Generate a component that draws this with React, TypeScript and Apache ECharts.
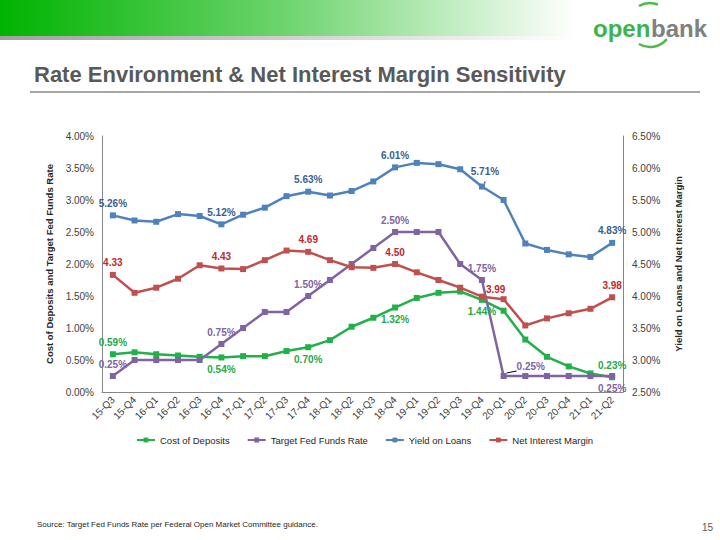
import React, { useEffect, useRef } from 'react';
import * as echarts from 'echarts';

const categories = ['15-Q3','15-Q4','16-Q1','16-Q2','16-Q3','16-Q4','17-Q1','17-Q2','17-Q3','17-Q4','18-Q1','18-Q2','18-Q3','18-Q4','19-Q1','19-Q2','19-Q3','19-Q4','20-Q1','20-Q2','20-Q3','20-Q4','21-Q1','21-Q2'];
const costOfDeposits = [0.59,0.62,0.59,0.57,0.55,0.54,0.56,0.56,0.64,0.70,0.81,1.02,1.16,1.32,1.47,1.55,1.57,1.44,1.27,0.82,0.55,0.40,0.29,0.23];
const fedFundsRate = [0.25,0.50,0.50,0.50,0.50,0.75,1.00,1.25,1.25,1.50,1.75,2.00,2.25,2.50,2.50,2.50,2.00,1.75,0.25,0.25,0.25,0.25,0.25,0.25];
const yieldOnLoans = [5.26,5.18,5.16,5.28,5.25,5.12,5.27,5.38,5.56,5.63,5.57,5.64,5.79,6.01,6.08,6.06,5.98,5.71,5.50,4.82,4.72,4.65,4.61,4.83];
const netInterestMargin = [4.33,4.05,4.13,4.27,4.48,4.43,4.42,4.56,4.71,4.69,4.56,4.45,4.44,4.50,4.37,4.25,4.13,3.99,3.95,3.54,3.65,3.73,3.80,3.98];
const leftTicks = [0, 4, 0.5];
const rightTicks = [2.5, 6.5, 0.5];

const FONT = '"Liberation Sans", Arial, sans-serif';

type LabelCfg = { position: string; offset?: number[]; leader?: boolean };
const costLabels: Record<number, LabelCfg> = {
  0: { position: 'top' }, 5: { position: 'bottom' }, 9: { position: 'bottom' },
  13: { position: 'bottom' }, 17: { position: 'bottom' }, 23: { position: 'top' },
};
const fedLabels: Record<number, LabelCfg> = {
  0: { position: 'top' }, 5: { position: 'top' }, 9: { position: 'top' }, 13: { position: 'top' },
  17: { position: 'top' }, 18: { position: 'right', offset: [6, -10], leader: true }, 23: { position: 'bottom' },
};
const yieldLabels: Record<number, LabelCfg> = {
  0: { position: 'top' }, 5: { position: 'top' }, 9: { position: 'top' }, 13: { position: 'top' },
  17: { position: 'top', offset: [3, -3], leader: true }, 23: { position: 'top' },
};
const nimLabels: Record<number, LabelCfg> = {
  0: { position: 'top' }, 5: { position: 'top' }, 9: { position: 'top' }, 13: { position: 'top' },
  17: { position: 'right', offset: [-3, -7] }, 23: { position: 'top' },
};

function buildData(values: number[], labels: Record<number, LabelCfg>) {
  return values.map((v, i) => {
    const cfg = labels[i];
    if (!cfg) return v;
    const item: any = { value: v, label: { show: true, position: cfg.position, offset: cfg.offset || [0, 0] } };
    if (cfg.leader) item.labelLine = { show: true, lineStyle: { color: '#000', width: 1 } };
    return item;
  });
}

function makeSeries(name: string, values: number[], labels: Record<number, LabelCfg>, lineColor: string, labelColor: string, yAxisIndex: number, pct: boolean) {
  return {
    name,
    type: 'line',
    yAxisIndex,
    data: buildData(values, labels),
    symbol: 'rect',
    symbolSize: 6,
    lineStyle: { color: lineColor, width: 2.5 },
    itemStyle: { color: lineColor },
    label: {
      show: false,
      color: labelColor,
      fontWeight: 'bold',
      fontSize: 10,
      fontFamily: FONT,
      distance: 4,
      formatter: (p: any) => (pct ? p.value.toFixed(2) + '%' : p.value.toFixed(2)),
    },
    emphasis: { disabled: true },
  };
}

export default function App() {
  const ref = useRef<HTMLDivElement>(null);
  useEffect(() => {
    if (!ref.current) return;
    const chart = echarts.init(ref.current, undefined, { renderer: 'svg' });
    const axisLabel = { color: '#404040', fontSize: 10, fontFamily: FONT };
    chart.setOption({
      animation: false,
      backgroundColor: '#ffffff',
      title: {
        text: 'Rate Environment & Net Interest Margin Sensitivity',
        left: 34,
        top: 63,
        padding: 0,
        textStyle: { color: '#595959', fontSize: 22, fontWeight: 'bold', fontFamily: FONT },
      },
      graphic: [
        {
          type: 'rect', left: 0, top: 0, shape: { x: 0, y: 0, width: 720, height: 36 },
          style: { fill: new echarts.graphic.LinearGradient(0, 0, 1, 0, [
            { offset: 0, color: '#00b300' }, { offset: 0.4, color: '#6fd46f' }, { offset: 0.8, color: '#ffffff' }, { offset: 1, color: '#ffffff' },
          ]) },
          silent: true,
        },
        {
          type: 'rect', left: 0, top: 36, shape: { x: 0, y: 0, width: 720, height: 4 },
          style: { fill: new echarts.graphic.LinearGradient(0, 0, 1, 0, [
            { offset: 0, color: '#a0a0a0' }, { offset: 0.8, color: '#ffffff' }, { offset: 1, color: '#ffffff' },
          ]) },
          silent: true,
        },
        {
          type: 'arc', shape: { cx: 650, cy: 25, r: 22, startAngle: -2.1, endAngle: -1.2 },
          style: { stroke: '#4cbb4c', lineWidth: 2.5, fill: 'none' }, silent: true,
        },
        {
          type: 'arc', shape: { cx: 650, cy: 25, r: 22, startAngle: 0.7, endAngle: 2.1 },
          style: { stroke: '#4cbb4c', lineWidth: 2.5, fill: 'none' }, silent: true,
        },
        {
          type: 'text', x: 593, y: 28,
          style: { text: 'open', font: 'bold 24px ' + FONT, fill: '#3cb44b', verticalAlign: 'middle', align: 'left' },
          silent: true,
        },
        {
          type: 'text', x: 651, y: 28,
          style: { text: 'bank', font: 'bold 24px ' + FONT, fill: '#808080', verticalAlign: 'middle', align: 'left' },
          silent: true,
        },
        {
          type: 'line', shape: { x1: 30, y1: 92, x2: 700, y2: 92 },
          style: { stroke: '#a6a6a6', lineWidth: 2 }, silent: true,
        },
        {
          type: 'text', x: 37, y: 524,
          style: { text: 'Source: Target Fed Funds Rate per Federal Open Market Committee guidance.', font: '8px ' + FONT, fill: '#262626', verticalAlign: 'middle' },
          silent: true,
        },
        {
          type: 'text', x: 713, y: 527,
          style: { text: '15', font: '10px ' + FONT, fill: '#595959', verticalAlign: 'middle', align: 'right' },
          silent: true,
        },
      ],
      legend: {
        left: 131,
        top: 430,
        itemWidth: 18,
        itemHeight: 6,
        itemGap: 17,
        textStyle: { color: '#262626', fontSize: 9.5, fontFamily: FONT },
        data: ['Cost of Deposits', 'Target Fed Funds Rate', 'Yield on Loans', 'Net Interest Margin'],
      },
      grid: { left: 102, right: 97, top: 136, bottom: 148, containLabel: false },
      xAxis: {
        type: 'category',
        data: categories,
        boundaryGap: true,
        axisLine: { lineStyle: { color: '#868686' } },
        axisTick: { show: false },
        axisLabel: { ...axisLabel, fontSize: 10, rotate: 45, interval: 0, margin: 6 },
      },
      yAxis: [
        {
          type: 'value', min: leftTicks[0], max: leftTicks[1], interval: leftTicks[2],
          name: 'Cost of Deposits and Target Fed Funds Rate',
          nameLocation: 'middle', nameGap: 46, nameRotate: 90,
          nameTextStyle: { color: '#262626', fontSize: 9.5, fontWeight: 'bold', fontFamily: FONT },
          axisLine: { show: true, lineStyle: { color: '#868686' } },
          axisTick: { show: false },
          splitLine: { show: false },
          axisLabel: { ...axisLabel, margin: 8, formatter: (v: number) => v.toFixed(2) + '%' },
        },
        {
          type: 'value', min: rightTicks[0], max: rightTicks[1], interval: rightTicks[2],
          name: 'Yield on Loans and Net Interest Margin',
          nameLocation: 'middle', nameGap: 50, nameRotate: 90,
          nameTextStyle: { color: '#262626', fontSize: 9.5, fontWeight: 'bold', fontFamily: FONT },
          axisLine: { show: true, lineStyle: { color: '#868686' } },
          axisTick: { show: false },
          splitLine: { show: false },
          axisLabel: { ...axisLabel, margin: 9, formatter: (v: number) => v.toFixed(2) + '%' },
        },
      ],
      series: [
        makeSeries('Cost of Deposits', costOfDeposits, costLabels, '#23b04a', '#27a844', 0, true),
        makeSeries('Target Fed Funds Rate', fedFundsRate, fedLabels, '#8064a2', '#8064a2', 0, true),
        makeSeries('Yield on Loans', yieldOnLoans, yieldLabels, '#4f81bd', '#376092', 1, true),
        makeSeries('Net Interest Margin', netInterestMargin, nimLabels, '#c0504d', '#c0282d', 1, false),
      ],
    });
    return () => chart.dispose();
  }, []);
  return <div ref={ref} style={{ position: 'fixed', left: 0, top: 0, width: 720, height: 540 }} />;
}
